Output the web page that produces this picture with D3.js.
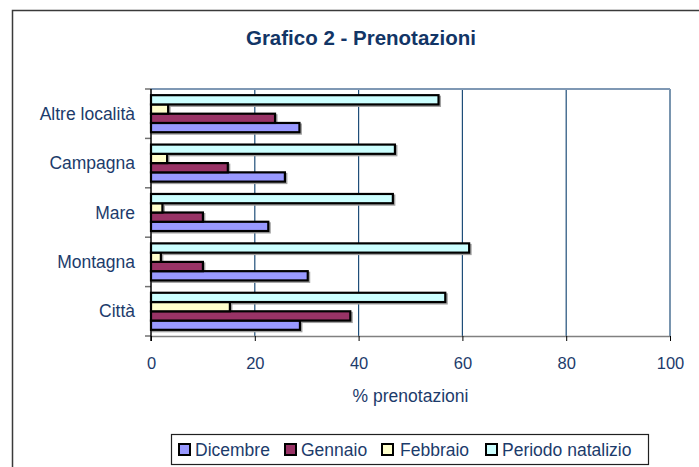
<!DOCTYPE html>
<html>
<head>
<meta charset="utf-8">
<script src="https://cdn.jsdelivr.net/npm/d3@7"></script>
<style>
  body { margin: 0; background: #fff; }
  svg { font-family: "Liberation Sans", Arial, sans-serif; }
</style>
</head>
<body>
<div id="chart"></div>
<script>
var categories = ["Altre località", "Campagna", "Mare", "Montagna", "Città"];
var seriesNames = ["Dicembre", "Gennaio", "Febbraio", "Periodo natalizio"];
var dicembre = [28.6, 25.8, 22.6, 30.2, 28.7];
var gennaio = [23.9, 14.8, 10.0, 10.0, 38.4];
var febbraio = [3.3, 3.1, 2.2, 1.9, 15.2];
var periodoNatalizio = [55.4, 47.0, 46.6, 61.3, 56.7];
var xTicks = [0, 20, 40, 60, 80, 100];
var colors = ["#9999ff", "#993366", "#ffffcc", "#ccffff"];

var width = 699, height = 467;
var textColor = "#1c3b6b";
var plot = {left: 151, right: 670, top: 89, bottom: 336};

var seriesValues = [dicembre, gennaio, febbraio, periodoNatalizio];
var data = categories.map(function(c, i){
  return {cat: c, values: seriesNames.map(function(s, j){
    return {name: s, value: seriesValues[j][i], color: colors[j]};
  })};
});

var svg = d3.select("#chart").append("svg")
  .attr("width", width)
  .attr("height", height);

// outer frame (runs off the picture on the right and bottom)
svg.append("rect")
  .attr("x", 12.5).attr("y", 10.5)
  .attr("width", 740).attr("height", 520)
  .attr("fill", "#fff")
  .attr("stroke", "#3a3a3a")
  .attr("stroke-width", 1.5);

svg.append("text")
  .attr("x", 361).attr("y", 45)
  .attr("text-anchor", "middle")
  .attr("font-size", 20.5)
  .attr("font-weight", "bold")
  .attr("fill", "#123566")
  .text("Grafico 2 - Prenotazioni");

var xScale = d3.scaleLinear().domain([0, 100]).range([plot.left, plot.right]);
var yScale = d3.scaleBand().domain(categories).range([plot.top, plot.bottom])
  .paddingInner(0.25).paddingOuter(0.125);
// top to bottom inside a group: Periodo natalizio, Febbraio, Gennaio, Dicembre
var ySub = d3.scaleBand().domain(seriesNames.slice().reverse()).range([0, yScale.bandwidth()]);

// gridlines
svg.append("g")
  .selectAll("line")
  .data(xTicks.slice(1))
  .join("line")
  .attr("x1", d => xScale(d)).attr("x2", d => xScale(d))
  .attr("y1", plot.top).attr("y2", plot.bottom)
  .attr("stroke", "#1f4e79")
  .attr("stroke-width", 1.2);

// top border of plot
svg.append("line")
  .attr("x1", plot.left).attr("x2", plot.right)
  .attr("y1", plot.top).attr("y2", plot.top)
  .attr("stroke", "#7f98b4").attr("stroke-width", 2);

// x axis
var xAxis = svg.append("g")
  .attr("transform", "translate(0," + plot.bottom + ")")
  .call(d3.axisBottom(xScale).tickValues(xTicks).tickSize(5).tickSizeOuter(0));
xAxis.select(".domain").attr("stroke", "#808080").attr("stroke-width", 1.5);
xAxis.selectAll(".tick line").attr("stroke", "#000");
xAxis.selectAll(".tick text")
  .attr("font-size", 16.5)
  .attr("font-family", "Liberation Sans, Arial, sans-serif")
  .attr("fill", textColor)
  .attr("y", 33)
  .attr("dy", 0);

svg.append("text")
  .attr("x", xScale(50)).attr("y", 402)
  .attr("text-anchor", "middle")
  .attr("font-size", 17.5)
  .attr("fill", textColor)
  .text("% prenotazioni");

// y axis ticks at group boundaries
var step = yScale.step();
var bounds = d3.range(categories.length + 1).map(i => plot.top + i * step);
svg.append("g")
  .selectAll("line")
  .data(bounds)
  .join("line")
  .attr("x1", plot.left - 6).attr("x2", plot.left)
  .attr("y1", d => d).attr("y2", d => d)
  .attr("stroke", "#707070").attr("stroke-width", 1.5);

svg.append("g")
  .selectAll("text")
  .data(categories)
  .join("text")
  .attr("x", 135)
  .attr("y", d => yScale(d) + yScale.bandwidth() / 2 + 6)
  .attr("text-anchor", "end")
  .attr("font-size", 17.5)
  .attr("fill", textColor)
  .text(d => d);

// bars
var group = svg.append("g").selectAll("g.bar-group")
  .data(data)
  .join("g")
  .attr("class", "bar-group")
  .attr("transform", d => "translate(0," + yScale(d.cat) + ")");

group.selectAll("rect.shadow")
  .data(d => d.values)
  .join("rect")
  .attr("class", "shadow")
  .attr("x", xScale(0) + 1.5)
  .attr("y", d => ySub(d.name) + 1.5)
  .attr("width", d => xScale(d.value) - xScale(0))
  .attr("height", ySub.bandwidth())
  .attr("fill", "none")
  .attr("stroke", "#a0a0a0")
  .attr("stroke-width", 2);

group.selectAll("rect.bar")
  .data(d => d.values)
  .join("rect")
  .attr("class", "bar")
  .attr("x", xScale(0))
  .attr("y", d => ySub(d.name))
  .attr("width", d => xScale(d.value) - xScale(0))
  .attr("height", ySub.bandwidth())
  .attr("fill", d => d.color)
  .attr("stroke", "#000")
  .attr("stroke-width", 2.2);

// left axis line
svg.append("line")
  .attr("x1", plot.left).attr("x2", plot.left)
  .attr("y1", plot.top).attr("y2", plot.bottom + 5)
  .attr("stroke", "#000").attr("stroke-width", 1.5);

// legend
var legend = svg.append("g");
legend.append("rect")
  .attr("x", 171.5).attr("y", 434.5)
  .attr("width", 477).attr("height", 30)
  .attr("fill", "#fff")
  .attr("stroke", "#202020").attr("stroke-width", 1.2);

var legendX = [179, 285, 382, 486];
var legendItems = legend.selectAll("g")
  .data(seriesNames)
  .join("g")
  .attr("transform", (d, i) => "translate(" + legendX[i] + ",444)");

legendItems.append("rect")
  .attr("width", 11).attr("height", 11)
  .attr("fill", (d, i) => colors[i])
  .attr("stroke", "#000").attr("stroke-width", 2);

legendItems.append("text")
  .attr("x", (d, i) => i == 2 ? 18 : 16)
  .attr("y", 12)
  .attr("font-size", 17.5)
  .attr("fill", textColor)
  .text(d => d);
</script>
</body>
</html>
